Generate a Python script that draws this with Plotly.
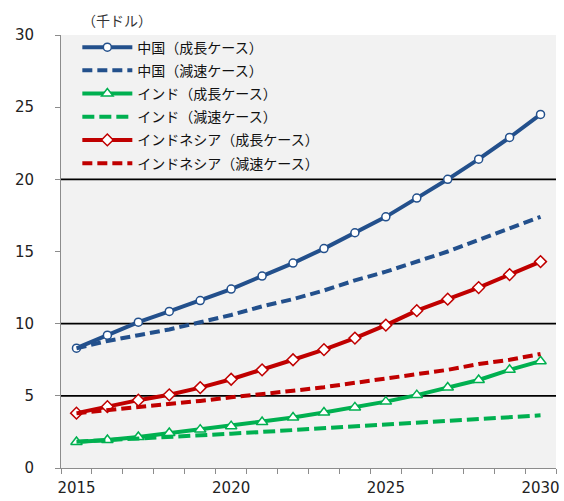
import plotly.graph_objects as go

years = list(range(2015, 2031))

china_high = [8.3, 9.2, 10.1, 10.85, 11.6, 12.4, 13.3, 14.2, 15.2, 16.3, 17.4, 18.7, 20.0, 21.4, 22.9, 24.5]
china_low = [8.3, 8.8, 9.2, 9.6, 10.1, 10.6, 11.2, 11.7, 12.3, 13.0, 13.6, 14.3, 15.0, 15.8, 16.6, 17.4]
india_high = [1.8, 1.94, 2.15, 2.42, 2.66, 2.9, 3.18, 3.5, 3.85, 4.2, 4.6, 5.05, 5.58, 6.1, 6.8, 7.4]
india_low = [1.82, 1.92, 2.02, 2.13, 2.25, 2.38, 2.5, 2.62, 2.74, 2.86, 2.98, 3.1, 3.22, 3.35, 3.5, 3.65]
indo_high = [3.8, 4.25, 4.7, 5.07, 5.57, 6.15, 6.8, 7.5, 8.2, 9.0, 9.9, 10.9, 11.7, 12.5, 13.4, 14.3]
indo_low = [3.8, 4.0, 4.2, 4.4, 4.65, 4.9, 5.1, 5.35, 5.6, 5.9, 6.2, 6.5, 6.8, 7.2, 7.5, 7.9]

names = ["中国（成長ケース）", "中国（減速ケース）", "インド（成長ケース）",
         "インド（減速ケース）", "インドネシア（成長ケース）", "インドネシア（減速ケース）"]
y_ticks = [0, 5, 10, 15, 20, 25, 30]
x_ticks = [2015, 2020, 2025, 2030]
grid_levels = [5, 10, 20]

BLUE = "#23508C"
GREEN = "#00B050"
RED = "#C00000"

fig = go.Figure()

series = [
    (china_high, BLUE, None, "circle", 8),
    (china_low, BLUE, "10px,5px", None, 0),
    (india_high, GREEN, None, "triangle-up", 10),
    (india_low, GREEN, "12px,5px", None, 0),
    (indo_high, RED, None, "diamond", 9),
    (indo_low, RED, "10px,5px", None, 0),
]

for i, (vals, col, dash, sym, size) in enumerate(series):
    kw = dict(x=years, y=vals, name=names[i], legendgroup=f"g{i}",
              line=dict(color=col, width=4, dash=dash if dash else "solid"))
    if sym:
        kw["mode"] = "lines+markers"
        kw["marker"] = dict(symbol=sym, size=size, color="white",
                            line=dict(color=col, width=1.5))
    else:
        kw["mode"] = "lines"
    fig.add_trace(go.Scatter(**kw))

for g in grid_levels:
    fig.add_shape(type="line", xref="paper", yref="y", x0=0, x1=1, y0=g, y1=g,
                  line=dict(color="black", width=1.6), layer="below")

fig.add_annotation(text="（千ドル）", xref="paper", yref="paper", x=0.038, y=1.0,
                   xanchor="left", yanchor="bottom", yshift=3, showarrow=False,
                   font=dict(size=14, color="#333333", family="Noto Sans CJK JP"))

fig.update_layout(
    width=564, height=501,
    margin=dict(l=61, r=8, t=35, b=33),
    paper_bgcolor="white",
    plot_bgcolor="#F2F2F2",
    font=dict(family="DejaVu Sans", size=15, color="#222222"),
    showlegend=True,
    legend=dict(x=0.033, y=1.008, xanchor="left", yanchor="top",
                bgcolor="rgba(0,0,0,0)", font=dict(size=14, family="Noto Sans CJK JP", color="#111111"),
                tracegroupgap=2, itemwidth=50),
    xaxis=dict(range=[2014.5, 2030.5], tickvals=x_ticks, ticktext=[str(v) for v in x_ticks],
               showgrid=False, zeroline=False, showline=True, linecolor="#8C8C8C", linewidth=1,
               ticks="", ticklabelstandoff=6, automargin=False,
               minor=dict(ticks="outside", tick0=2014.5, dtick=1, ticklen=5,
                          tickcolor="#8C8C8C", showgrid=False),
               tickfont=dict(size=15)),
    yaxis=dict(range=[0, 30], tickvals=y_ticks, showgrid=False, zeroline=False,
               showline=True, linecolor="#8C8C8C", linewidth=1, ticks="outside",
               ticklen=5, tickcolor="#8C8C8C", ticklabelstandoff=18, automargin=False,
               tickfont=dict(size=15)),
)

fig.write_html("out.html")
